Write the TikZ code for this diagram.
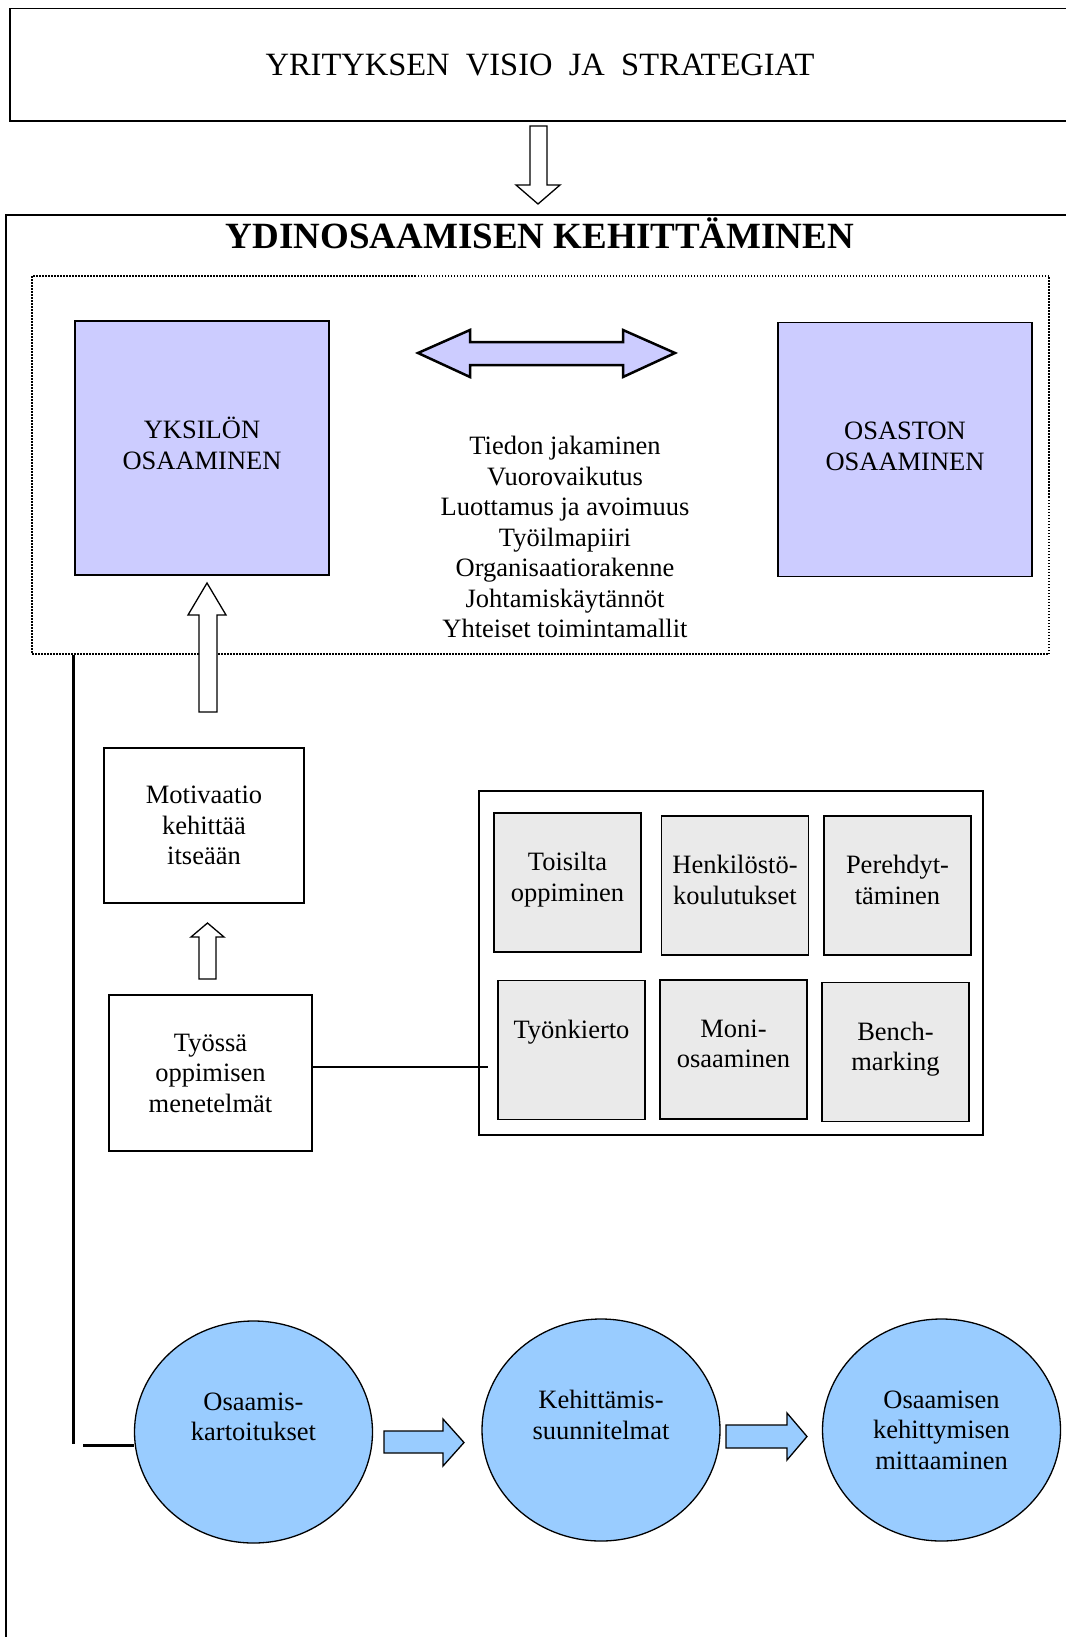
\documentclass[tikz,border=0pt]{standalone}
\usepackage{fontspec}
\setmainfont{Liberation Serif}
\usepackage{xcolor}
\usepackage{tikz}
\usetikzlibrary{positioning,shapes.geometric}

\definecolor{compfill}{HTML}{CCCCFF}
\definecolor{methodfill}{HTML}{EAEAEA}
\definecolor{phasefill}{HTML}{99CCFF}

\tikzset{
  plainbox/.style={draw, line width=1.5pt, align=center, inner sep=0pt},
  compbox/.style={draw, line width=1.5pt, fill=compfill, minimum width=254pt, minimum height=254pt},
  method/.style={draw, line width=1.5pt, fill=methodfill, minimum width=147pt, minimum height=139pt},
  phase/.style={ellipse, draw, line width=1.3pt, fill=phasefill, minimum width=238pt, minimum height=222pt, inner sep=0pt},
  inside/.style={align=center, inner sep=0pt},
  hollowarrow/.style={draw, line width=1.3pt, fill=white},
  bluearrow/.style={draw, line width=1.3pt, fill=phasefill},
  spine/.style={line width=3pt}
}

\begin{document}
\begin{tikzpicture}[x=1pt, y=-1pt, font=\fontsize{26.5}{30.5}\selectfont]
\useasboundingbox (0,0) rectangle (1065,1637);

\node[plainbox, minimum width=1060pt, minimum height=112.5pt, font=\fontsize{32.5}{36}\selectfont] (visio) at (540,64.75) {YRITYKSEN~~VISIO~~JA~~STRATEGIAT};
\draw[hollowarrow] (530,126) -- (547,126) -- (547,185) -- (560,185) -- (538,204) -- (516,185) -- (530,185) -- cycle;

\draw[line width=1.5pt] (6,215) rectangle (1080,1680);
\node[anchor=base, font=\fontsize{37}{42}\selectfont\bfseries] (otsikko) at (540,249) {YDINOSAAMISEN KEHITTÄMINEN};

\node[draw, line width=1.3pt, dash pattern=on 1.5pt off 1.5pt, minimum width=1017pt, minimum height=378pt] (ydin) at (540.5,465) {};
\node[compbox] (yksilo) at (202,448) {};
\node[compbox] (osasto) at (905,449.5) {};
\node[inside] (yksiloteksti) at ([yshift=4.5pt]yksilo.center) {YKSILÖN\\OSAAMINEN};
\node[inside] (osastoteksti) at ([yshift=3pt]osasto.center) {OSASTON\\OSAAMINEN};
\draw[line width=2.5pt, fill=compfill, line join=miter] (418,353) -- (470,330) -- (470,342) -- (623,342) -- (623,330) -- (675,353) -- (623,377) -- (623,365) -- (470,365) -- (470,377) -- cycle;
\node[inside] (tekijat) at (565,537) {Tiedon jakaminen\\Vuorovaikutus\\Luottamus ja avoimuus\\Työilmapiiri\\Organisaatiorakenne\\Johtamiskäytännöt\\Yhteiset toimintamallit};

\draw[hollowarrow] (199,712) -- (199,615) -- (188,615) -- (207,583) -- (226,615) -- (217,615) -- (217,712) -- cycle;
\node[plainbox, minimum width=200pt, minimum height=155pt] (motivaatio) at (204,825.5) {Motivaatio\\kehittää\\itseään};
\draw[hollowarrow] (199,979) -- (199,937) -- (191,937) -- (207.5,923) -- (224,937) -- (216,937) -- (216,979) -- cycle;
\node[plainbox, minimum width=203pt, minimum height=156pt] (tyossa) at (210.5,1073) {Työssä\\oppimisen\\menetelmät};

\node[draw, line width=1.5pt, minimum width=504pt, minimum height=344pt] (menetelmat) at (731,963) {};
\node[method] (toisilta) at (567.5,882.5) {};
\node[method] (henkilosto) at (735,885.5) {};
\node[method] (perehdytys) at (897.5,885.5) {};
\node[method] (tyonkierto) at (571.5,1050) {};
\node[method] (moni) at (733.5,1049.5) {};
\node[method] (bench) at (895.5,1052) {};
\node[inside, below=40pt of toisilta.north] (toisiltateksti) {Toisilta\\oppiminen};
\node[inside, below=40pt of henkilosto.north] (henkilostoteksti) {Henkilöstö-\\koulutukset};
\node[inside, below=40pt of perehdytys.north] (perehdytysteksti) {Perehdyt-\\täminen};
\node[inside, below=40pt of tyonkierto.north] (tyonkiertoteksti) {Työnkierto};
\node[inside, below=40pt of moni.north] (moniteksti) {Moni-\\osaaminen};
\node[inside, below=40pt of bench.north] (benchteksti) {Bench-\\marking};

\coordinate (linkend) at (488,1067);
\draw[line width=1.5pt] (tyossa.east |- linkend) -- (linkend);

\coordinate (spinetop) at (73.5,655);
\coordinate (spinebot) at (73.5,1444);
\coordinate (stub) at (83,1445);
\draw[spine] (spinetop) -- (spinebot);

\node[phase] (kartoitus) at (253.5,1432) {};
\node[phase] (suunnitelma) at (601,1430) {};
\node[phase] (mittaus) at (941.5,1430) {};
\node[inside, below=72pt of kartoitus.north] (kartoitusteksti) {Osaamis-\\kartoitukset};
\node[inside, below=72pt of suunnitelma.north] (suunnitelmateksti) {Kehittämis-\\suunnitelmat};
\node[inside, below=72pt of mittaus.north] (mittausteksti) {Osaamisen\\kehittymisen\\mittaaminen};
\draw[spine] (stub) -- (stub -| kartoitus.west);

\draw[bluearrow] (384,1431) -- (443,1431) -- (443,1419) -- (464,1442.5) -- (443,1466) -- (443,1453) -- (384,1453) -- cycle;
\draw[bluearrow] (726,1425) -- (787,1425) -- (787,1413) -- (807,1436.5) -- (787,1460) -- (787,1448) -- (726,1448) -- cycle;
\end{tikzpicture}
\end{document}
